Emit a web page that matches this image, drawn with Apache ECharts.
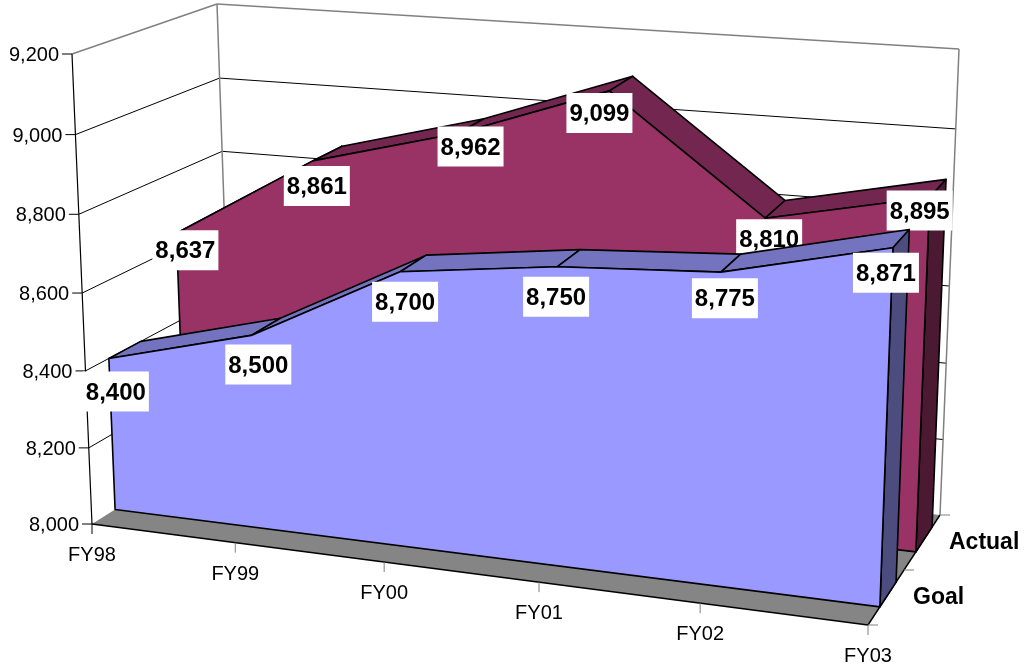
<!DOCTYPE html>
<html>
<head>
<meta charset="utf-8">
<style>html,body{margin:0;padding:0;background:#fff}#chart{width:1026px;height:671px}</style>
<script src="https://cdn.jsdelivr.net/npm/echarts@6/dist/echarts.min.js"></script>
</head>
<body>
<div id="chart"></div>
<script>
// Headcount by fiscal year: goal against actual, drawn as a 3D area chart.
const categories = ['FY98', 'FY99', 'FY00', 'FY01', 'FY02', 'FY03'];
const goalValues = [8400, 8500, 8700, 8750, 8775, 8871];
const actualValues = [8637, 8861, 8962, 9099, 8810, 8895];
const valueTicks = [8000, 8200, 8400, 8600, 8800, 9000, 9200];
const depthNames = ['Goal', 'Actual'];

// Pixel offsets of each value box from its point on the front face.
const goalLabelNudge = [[7, 33], [7, 29], [5, 30], [-1, 30], [4, 26], [-7, 25]];
const actualLabelNudge = [[9, 17], [4, 25], [13, 13], [-10, 22], [4, 21], [-10, 13]];

// Corners of the 3D box on screen: first letter Front/Back, then Left/Right, then Bottom/Top.
const box = {
  FLB: [92, 524], FRB: [868, 625], BRB: [940, 515], BLB: [232, 436],
  FLT: [72, 54], FRT: [886, 119], BRT: [959, 49], BLT: [217, 4]
};
const foreshortenX = 1.104;
const foreshortenY = 1.035;
// Depth of the front and back faces of each area, as a share of the floor depth.
const goalDepth = [0.165, 0.39];
const actualDepth = [0.665, 0.89];

const mix = (a, b, t) => [a[0] + (b[0] - a[0]) * t, a[1] + (b[1] - a[1]) * t];
const warp = (t, k) => t / (t + k * (1 - t));

// Project axis fractions (s along categories, t up the values, z into the depth) to the screen.
function project(s, t, z) {
  const u = warp(s, foreshortenX);
  const v = warp(t, foreshortenY);
  const bottom = mix(mix(box.FLB, box.FRB, u), mix(box.BLB, box.BRB, u), z);
  const top = mix(mix(box.FLT, box.FRT, u), mix(box.BLT, box.BRT, u), z);
  return mix(bottom, top, v);
}

// Category and value go through the grid's own scales; the result is read as axis fractions.
function place(api, params, category, value, z) {
  const p = api.coord([category, value]);
  const g = params.coordSys;
  return project((p[0] - g.x) / g.width, (g.y + g.height - p[1]) / g.height, z);
}

const line = (a, b, stroke, width) => ({
  type: 'line',
  shape: { x1: a[0], y1: a[1], x2: b[0], y2: b[1] },
  style: { stroke, lineWidth: width }
});
const poly = (points, fill) => ({
  type: 'polygon',
  shape: { points },
  style: { fill, stroke: '#000', lineWidth: 1.6, lineJoin: 'round' }
});
const text = (x, y, str, font, align) => ({
  type: 'text',
  style: { x, y: y + 1.5, text: str, font, fill: '#000', align, verticalAlign: 'middle' }
});
const AXIS_FONT = '20px "Liberation Sans", Arial, sans-serif';
const BOLD_FONT = 'bold 23px "Liberation Sans", Arial, sans-serif';
const VALUE_FONT = 'bold 24px "Liberation Sans", Arial, sans-serif';

function renderFrame(params, api) {
  if (params.dataIndex > 0) return null;
  const last = categories.length - 1;
  const at = (i, v, z) => place(api, params, i, v, z);
  const lo = valueTicks[0];
  const hi = valueTicks[valueTicks.length - 1];
  const items = [];
  items.push({
    type: 'polygon',
    shape: { points: [at(0, lo, 0), at(last, lo, 0), at(last, lo, 1), at(0, lo, 1)] },
    style: { fill: '#858585' }
  });
  valueTicks.forEach(v => {
    const edge = v === hi;
    if (v !== lo) {
      items.push(line(at(0, v, 0), at(0, v, 1), edge ? '#808080' : '#000', edge ? 1.5 : 1));
      items.push(line(at(0, v, 1), at(last, v, 1), edge ? '#808080' : '#000', edge ? 1.5 : 1));
    }
    const a = at(0, v, 0);
    items.push(line([a[0] - 10, a[1]], a, '#000', 1));
    items.push(text(a[0] - 13, a[1], v.toLocaleString('en-US'), AXIS_FONT, 'right'));
  });
  items.push(line(at(0, lo, 1), at(0, hi, 1), '#808080', 1.5));
  items.push(line(at(last, lo, 1), at(last, hi, 1), '#808080', 1.5));
  items.push(line(at(0, lo, 0), at(0, hi, 0), '#000', 1.2));
  items.push(line(at(0, lo, 0), at(last, lo, 0), '#000', 1.4));
  items.push(line(at(last, lo, 0), at(last, lo, 1), '#000', 1.4));
  categories.forEach((name, i) => {
    const a = at(i, lo, 0);
    items.push(line(a, [a[0], a[1] + 10], i === 0 ? '#000' : '#808080', 1));
    items.push(text(a[0], a[1] + 30, name, AXIS_FONT, 'center'));
  });
  [0, 0.5, 1].forEach(z => {
    const a = at(last, lo, z);
    items.push(line(a, [a[0] + 10, a[1]], '#808080', 1));
  });
  depthNames.forEach((name, i) => {
    const a = at(last, lo, 0.25 + i * 0.5);
    items.push(text(a[0] + 27, a[1] - 1, name, BOLD_FONT, 'left'));
  });
  return { type: 'group', children: items };
}

// An area with depth: top strips, right side, then the front face.
function areaRenderer(values, depth, colors) {
  return function (params, api) {
    if (params.dataIndex > 0) return null;
    const last = values.length - 1;
    const lo = valueTicks[0];
    const at = (i, v, z) => place(api, params, i, v, z);
    const items = [];
    for (let i = 0; i < last; i++) {
      items.push(poly([at(i, values[i], depth[0]), at(i + 1, values[i + 1], depth[0]),
        at(i + 1, values[i + 1], depth[1]), at(i, values[i], depth[1])], colors.top));
    }
    items.push(poly([at(last, lo, depth[0]), at(last, values[last], depth[0]),
      at(last, values[last], depth[1]), at(last, lo, depth[1])], colors.side));
    const face = [at(0, lo, depth[0])];
    values.forEach((v, i) => face.push(at(i, v, depth[0])));
    face.push(at(last, lo, depth[0]));
    items.push(poly(face, colors.front));
    return { type: 'group', children: items };
  };
}

function labelRenderer(values, depth, nudge) {
  return function (params, api) {
    const i = params.dataIndex;
    const p = place(api, params, i, values[i], depth[0]);
    const cx = p[0] + nudge[i][0];
    const cy = p[1] + nudge[i][1];
    return {
      type: 'group',
      children: [
        { type: 'rect', shape: { x: cx - 33, y: cy - 20, width: 66, height: 40 }, style: { fill: '#fff' } },
        text(cx, cy, values[i].toLocaleString('en-US'), VALUE_FONT, 'center')
      ]
    };
  };
}

const rows = values => values.map((v, i) => [i, v]);
const custom = (name, data, renderItem, z) => ({
  type: 'custom', name, coordinateSystem: 'cartesian2d', data, renderItem, z,
  clip: false, silent: true, animation: false
});

const chart = echarts.init(document.getElementById('chart'), null, { renderer: 'canvas' });
chart.setOption({
  backgroundColor: '#fff',
  animation: false,
  grid: { left: 0, right: 0, top: 0, bottom: 0 },
  xAxis: { type: 'category', data: categories, boundaryGap: false, show: false },
  yAxis: { type: 'value', min: 8000, max: 9200, interval: 200, show: false },
  series: [
    custom('Frame', rows(goalValues), renderFrame, 1),
    custom('Actual', rows(actualValues), areaRenderer(actualValues, actualDepth,
      { front: '#993366', top: '#732650', side: '#4C1933' }), 2),
    custom('Actual values', rows(actualValues), labelRenderer(actualValues, actualDepth, actualLabelNudge), 3),
    custom('Goal', rows(goalValues), areaRenderer(goalValues, goalDepth,
      { front: '#9999FF', top: '#7373BF', side: '#4C4C7F' }), 4),
    custom('Goal values', rows(goalValues), labelRenderer(goalValues, goalDepth, goalLabelNudge), 5)
  ]
});
</script>
</body>
</html>
